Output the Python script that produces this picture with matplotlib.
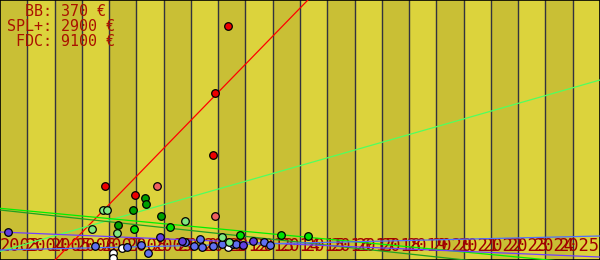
import matplotlib
matplotlib.use("Agg")
import matplotlib.pyplot as plt
import numpy as np

# years on the x axis, one band per year
years = list(range(2003, 2026))

# FDC observations (year, €)
fdc_x = [2011.36, 2010.88, 2010.81, 2006.85, 2007.95]
fdc_y = [11700, 8350, 5250, 3700, 3250]
fdc2_x = [2008.76, 2010.88]
fdc2_y = [3700, 2200]

# SPL+ observations
spl_dark_x = [2008.33, 2008.36, 2007.89, 2008.91, 2007.34]
spl_dark_y = [3100, 2785, 2485, 2185, 1735]
spl_mid_x = [2007.92, 2009.24, 2011.81, 2013.31, 2014.30]
spl_mid_y = [1535, 1635, 1235, 1235, 1185]
spl_light_x = [2006.79, 2006.91, 2006.38, 2007.30, 2009.79, 2011.15, 2011.41]
spl_light_y = [2485, 2485, 1535, 1335, 1935, 1135, 900]

# BB observations
bb_purple_x = [2003.30, 2008.88, 2009.68, 2011.92, 2012.29]
bb_purple_y = [1385, 1135, 935, 735, 935]
bb_blue_x = [2006.49, 2007.67, 2008.18, 2008.44, 2009.79, 2010.12, 2010.34,
             2010.42, 2010.82, 2011.15, 2011.55, 2011.66, 2012.69, 2012.89]
bb_blue_y = [700, 635, 735, 335, 915, 685, 1035, 635, 685, 785, 785, 785, 885, 735]
bb_white_x = [2007.15, 2007.15, 2007.48, 2011.37]
bb_white_y = [375, 100, 585, 635]

# trend lines (start year, start €, end year, end €)
trend_fdc = ([2005.02, 2014.29], [0, 13000])
trend_spl_light = ([2003, 2025], [430, 9000])
trend_spl_lime = ([2003, 2025], [2585, -240])
trend_spl_dark = ([2003, 2025], [2500, -725])
trend_bb_purple = ([2003, 2025], [1400, 150])
trend_bb_blue = ([2003, 2025], [500, 1200])

summary = "  BB: 370 €\nSPL+: 2900 €\n FDC: 9100 €"

fig = plt.figure(figsize=(6, 2.6), dpi=100)
ax = fig.add_axes([0, 0, 1, 1])
ax.set_xlim(2003, 2025)
ax.set_ylim(0, 13000)
ax.set_xticks([])
ax.set_yticks([])
for s in ax.spines.values():
    s.set_color('black')
    s.set_linewidth(1.2)

# alternating year bands
for i in range(len(years) - 1):
    c = '#c9bf35' if i % 2 == 0 else '#dcd33c'
    ax.axvspan(years[i], years[i + 1], color=c, lw=0, zorder=0)
    if i > 0:
        ax.axvline(years[i], color='#33333f', lw=1, zorder=1)

# year labels, squeezed so the first starts at the left edge and the last one ends at the right edge
step = (559 / 22) / (600 / 22)
for i, y in enumerate(years):
    ax.text(2003 + i * step, 430, str(y), family='DejaVu Sans Mono', fontsize=12.3,
            color='#a00000', ha='left', va='baseline', zorder=2)

ax.text(0.012, 0.985, summary, transform=ax.transAxes, family='DejaVu Sans Mono',
        fontsize=10.8, color='#aa1100', ha='left', va='top', linespacing=1.0, zorder=5)

# trend lines
ax.plot(*trend_fdc, color='#ff0000', lw=0.9, zorder=3)
ax.plot(*trend_spl_light, color='#50ff60', lw=0.9, zorder=3)
ax.plot(*trend_spl_lime, color='#00f000', lw=0.9, zorder=3)
ax.plot(*trend_spl_dark, color='#20a020', lw=0.9, zorder=3)
ax.plot(*trend_bb_purple, color='#7040ff', lw=0.9, zorder=3)
ax.plot(*trend_bb_blue, color='#5070ff', lw=0.9, zorder=3)

# observations
pts = [
    (bb_white_x, bb_white_y, '#ffffff'),
    (bb_blue_x, bb_blue_y, '#6070f0'),
    (bb_purple_x, bb_purple_y, '#6040e0'),
    (spl_light_x, spl_light_y, '#80e880'),
    (spl_mid_x, spl_mid_y, '#00e000'),
    (spl_dark_x, spl_dark_y, '#00a000'),
    (fdc2_x, fdc2_y, '#f06060'),
    (fdc_x, fdc_y, '#ee0000'),
]
for xs, ys, c in pts:
    ax.scatter(xs, ys, s=30, c=c, edgecolors='black', linewidths=0.9, zorder=4)

fig.savefig('out.png', dpi=100)
